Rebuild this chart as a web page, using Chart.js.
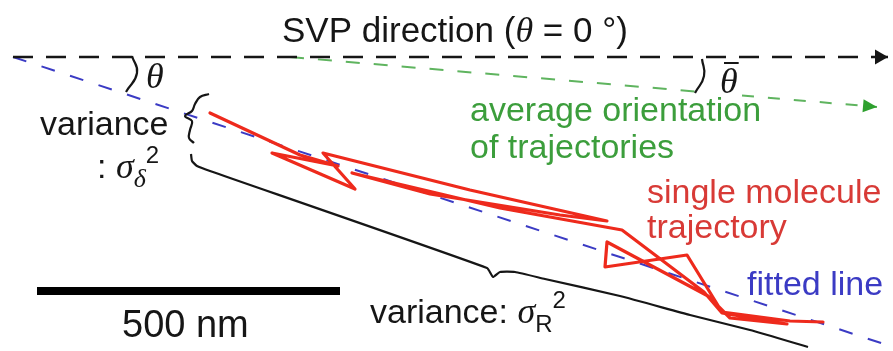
<!DOCTYPE html>
<html>
<head>
<meta charset="utf-8">
<script src="https://cdn.jsdelivr.net/npm/chart.js@4.4.1/dist/chart.umd.min.js"></script>
<style>
  html, body { margin: 0; padding: 0; background: #fff; }
  #wrap { width: 893px; height: 351px; }
</style>
</head>
<body>
<div id="wrap"><canvas id="c" width="893" height="351"></canvas></div>
<script>
// ---- Geometry of the sketch (plane units, y grows downward) ----

// SVP direction (theta = 0)
const svpX = [13, 888];
const svpY = [57, 57];

// fitted line through the trajectory
const fitX = [13, 893];
const fitY = [57, 347];

// average orientation of trajectories (broken around the theta-bar label)
const avgAX = [290, 698];
const avgAY = [57, 91.7];
const avgBX = [742, 877];
const avgBY = [95.5, 107];

// single molecule trajectory
const trajX = [210, 300, 338, 272, 355, 323, 470, 607, 560, 430, 352, 500, 622, 704, 722, 787, 730, 708, 607, 605, 687, 722, 790, 823];
const trajY = [113, 155, 166, 153, 189, 153, 190, 221, 215, 194, 173, 208, 230, 292, 313, 324, 318, 296, 242, 267, 255, 312, 321, 322];

// angle marks
const thetaArcX = [132, 137, 126];
const thetaArcY = [56, 73, 92];
const avgArcX = [702, 704, 695];
const avgArcY = [59, 76, 93];

// braces marking the two variances
const shortBraceX = [209, 200, 195, 192, 185, 192, 190, 189, 194];
const shortBraceY = [94, 97, 104, 111, 116, 121, 130, 138, 143];
const longBraceX = [191, 192, 197, 210, 487, 493, 500, 515, 545, 620, 690, 750, 808];
const longBraceY = [154, 161, 166, 171, 268, 277, 272, 272, 279, 296, 315, 330, 347];

// scale bar (500 nm)
const barX = [37, 340];
const barY = [291, 291];

const pts = (xs, ys) => xs.map((x, i) => ({ x, y: ys[i] }));

const BLACK = '#161616';
const BLUE = '#3b3bc4';
const GREEN_LINE = '#5fb45f';
const GREEN_TEXT = '#3c9e3c';
const RED_LINE = '#ee2a1c';
const RED_TEXT = '#d83a36';

const SANS = '"Liberation Sans", Arial, Helvetica, sans-serif';
const SERIF = '"Liberation Serif", "Times New Roman", serif';
const styles = {
  sans:  { font: `34px ${SANS}`, dy: 0 },
  head:  { font: `35px ${SANS}`, dy: 0 },
  big:   { font: `38px ${SANS}`, dy: 0 },
  greek: { font: `italic 36px ${SERIF}`, dy: 0 },
  sub:   { font: `24px ${SANS}`, dy: 9 },
  subG:  { font: `italic 26px ${SERIF}`, dy: 9 },
  sup:   { font: `24px ${SANS}`, dy: -15 },
};

// text annotations: anchor (left, baseline) in plane units
const notes = [
  { x: 282, y: 42, color: BLACK, runs: [['SVP direction (', 'head'], ['θ', 'greek'], [' = 0 °)', 'head']] },
  { x: 146, y: 88, color: BLACK, runs: [['θ', 'greek']] },
  { x: 720, y: 93, color: BLACK, runs: [['θ', 'greek']], overbar: true },
  { x: 40, y: 135, color: BLACK, runs: [['variance', 'sans']] },
  { x: 97, y: 178, color: BLACK, runs: [[': ', 'sans'], ['σ', 'greek'], ['δ', 'subG'], ['2', 'sup']] },
  { x: 470, y: 121, color: GREEN_TEXT, runs: [['average orientation', 'sans']] },
  { x: 470, y: 158, color: GREEN_TEXT, runs: [['of trajectories', 'sans']] },
  { x: 647, y: 203, color: RED_TEXT, runs: [['single molecule', 'sans']] },
  { x: 647, y: 238, color: RED_TEXT, runs: [['trajectory', 'sans']] },
  { x: 747, y: 295, color: BLUE, runs: [['fitted line', 'sans']] },
  { x: 122, y: 337, color: BLACK, runs: [['500 nm', 'big']] },
  { x: 370, y: 323, color: BLACK, runs: [['variance: ', 'sans'], ['σ', 'greek'], ['R', 'sub'], ['2', 'sup']] },
];

const notesPlugin = {
  id: 'notes',
  afterDatasetsDraw(chart) {
    const { ctx, scales: { x, y } } = chart;
    ctx.save();
    ctx.textBaseline = 'alphabetic';
    ctx.textAlign = 'left';
    for (const n of notes) {
      let px = x.getPixelForValue(n.x);
      const py = y.getPixelForValue(n.y);
      ctx.fillStyle = n.color;
      const startX = px;
      for (const [t, s] of n.runs) {
        const st = styles[s];
        ctx.font = st.font;
        ctx.fillText(t, px, py + st.dy);
        px += ctx.measureText(t).width;
      }
      if (n.overbar) {
        ctx.strokeStyle = n.color;
        ctx.lineWidth = 2;
        ctx.beginPath();
        ctx.moveTo(startX + 4, py - 30);
        ctx.lineTo(px + 1, py - 30);
        ctx.stroke();
      }
    }
    ctx.restore();
  }
};

// arrow heads at the last point of datasets that ask for one
const arrowPlugin = {
  id: 'arrows',
  afterDatasetsDraw(chart) {
    const { ctx } = chart;
    chart.data.datasets.forEach((ds, i) => {
      if (!ds.arrowHead) return;
      const el = chart.getDatasetMeta(i).data;
      const a = el[el.length - 2], b = el[el.length - 1];
      const ang = Math.atan2(b.y - a.y, b.x - a.x);
      const { len, half } = ds.arrowHead;
      ctx.save();
      ctx.translate(b.x, b.y);
      ctx.rotate(ang);
      ctx.fillStyle = ds.arrowHead.color;
      ctx.beginPath();
      ctx.moveTo(0, 0);
      ctx.lineTo(-len, -half);
      ctx.lineTo(-len, half);
      ctx.closePath();
      ctx.fill();
      ctx.restore();
    });
  }
};

const line = (xs, ys, color, width, extra = {}) => Object.assign({
  data: pts(xs, ys),
  showLine: true,
  borderColor: color,
  borderWidth: width,
  pointRadius: 0,
  fill: false,
  tension: 0,
}, extra);

new Chart(document.getElementById('c'), {
  type: 'scatter',
  data: {
    datasets: [
      line(barX, barY, '#000', 8, { borderCapStyle: 'butt' }),
      line(longBraceX, longBraceY, BLACK, 2.2, { tension: 0.15 }),
      line(shortBraceX, shortBraceY, BLACK, 2.2, { tension: 0.4 }),
      line(thetaArcX, thetaArcY, BLACK, 2.2, { tension: 0.5 }),
      line(avgArcX, avgArcY, BLACK, 2.2, { tension: 0.5 }),
      line(svpX, svpY, BLACK, 2.5, { borderDash: [20, 13], arrowHead: { len: 13, half: 7.5, color: BLACK } }),
      line(avgAX, avgAY, GREEN_LINE, 2, { borderDash: [14, 14] }),
      line(avgBX, avgBY, GREEN_LINE, 2, { borderDash: [12, 14], arrowHead: { len: 14, half: 6.5, color: '#2ea02e' } }),
      line(trajX, trajY, RED_LINE, 3.2, { borderJoinStyle: 'round', borderCapStyle: 'round' }),
      line(fitX, fitY, BLUE, 2, { borderDash: [14, 16] }),
    ]
  },
  options: {
    responsive: false,
    devicePixelRatio: 1,
    animation: false,
    events: [],
    layout: { padding: 0 },
    plugins: { legend: { display: false }, tooltip: { enabled: false } },
    scales: {
      x: { type: 'linear', min: 0, max: 893, display: false },
      y: { type: 'linear', min: 0, max: 351, reverse: true, display: false },
    }
  },
  plugins: [arrowPlugin, notesPlugin]
});
</script>
</body>
</html>
